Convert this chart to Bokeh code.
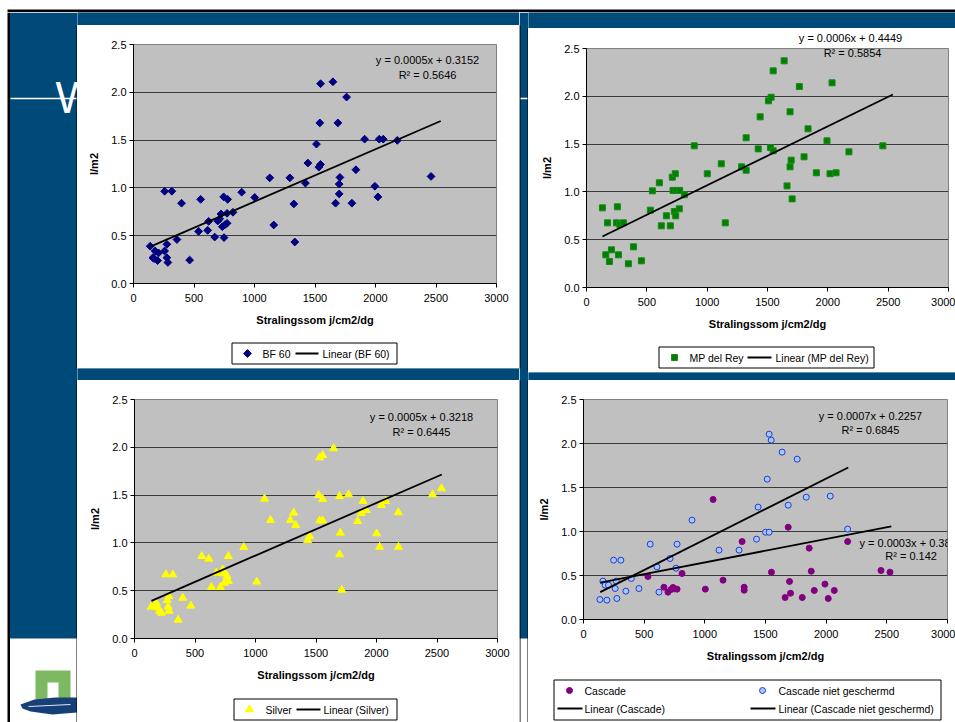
from math import pi
from bokeh.plotting import figure
from bokeh.layouts import row, column
from bokeh.models import Range1d, FixedTicker, NumeralTickFormatter, Label
from bokeh.core.properties import value
from bokeh.embed import file_html
from bokeh.resources import INLINE

FONT = "Liberation Sans"
SLIDE_BLUE = "#004a7a"
PLOT_GRAY = "#c0c0c0"

# ---------------- data ----------------
x_ticks = [0, 500, 1000, 1500, 2000, 2500, 3000]
y_ticks = [0.0, 0.5, 1.0, 1.5, 2.0, 2.5]
x_title = "Stralingssom j/cm2/dg"
y_title = "l/m2"

bf60_x = [138, 160, 179, 207, 171, 199, 257, 276, 276, 284, 257, 317, 359, 397, 464, 538, 555, 613, 621, 671,
          696, 712, 723, 745, 778, 748, 734, 756, 773, 773, 822, 894, 1002, 1126, 1159, 1292, 1325, 1333, 1421,
          1441, 1512, 1532, 1546, 1546, 1648, 1540, 1689, 1761, 1706, 1700, 1700, 1670, 1805, 1838, 1910, 2031,
          2064, 2180, 1995, 2020, 2459]
bf60_y = [0.39, 0.27, 0.34, 0.32, 0.26, 0.24, 0.34, 0.41, 0.27, 0.22, 0.965, 0.965, 0.46, 0.84, 0.245, 0.545,
          0.88, 0.556, 0.65, 0.486, 0.654, 0.675, 0.727, 0.906, 0.88, 0.48, 0.594, 0.615, 0.63, 0.734, 0.745,
          0.955, 0.90, 1.105, 0.612, 1.105, 0.832, 0.434, 1.05, 1.26, 1.458, 1.217, 1.245, 2.09, 2.11, 1.68,
          1.68, 1.95, 1.11, 1.04, 0.937, 0.84, 0.84, 1.19, 1.51, 1.51, 1.51, 1.497, 1.017, 0.906, 1.12]
bf60_trend_x = [144, 2539]
bf60_trend_y = [0.388, 1.70]
bf60_eq = ["y = 0.0005x + 0.3152", "R² = 0.5646"]

mp_x = [132, 174, 256, 248, 276, 306, 160, 207, 190, 265, 347, 389, 455, 529, 546, 604, 620, 695, 662, 711,
        736, 717, 744, 772, 811, 728, 739, 769, 893, 1001, 1117, 1150, 1285, 1323, 1323, 1423, 1439, 1508, 1530,
        1547, 1638, 1764, 2035, 1687, 1836, 1525, 1547, 1696, 1687, 1803, 1662, 1704, 1905, 2018, 2068, 1993,
        2175, 2456]
mp_y = [0.833, 0.676, 0.844, 0.676, 0.66, 0.676, 0.342, 0.394, 0.272, 0.342, 0.248, 0.425, 0.279, 0.809, 1.011,
        1.095, 0.645, 0.645, 0.75, 1.154, 1.19, 1.015, 1.015, 1.015, 0.97, 0.795, 0.75, 0.823, 1.482, 1.19,
        1.294, 0.676, 1.262, 1.227, 1.566, 1.45, 1.785, 1.953, 1.99, 2.266, 2.371, 2.102, 2.141, 1.838, 1.66,
        1.464, 1.43, 1.332, 1.262, 1.367, 1.063, 0.927, 1.2, 1.19, 1.2, 1.534, 1.419, 1.482]
mp_trend_x = [132, 2539]
mp_trend_y = [0.533, 2.019]
mp_eq = ["y = 0.0006x + 0.4449", "R² = 0.5854"]

silver_x = [138, 182, 193, 206, 223, 168, 270, 278, 286, 284, 259, 316, 361, 399, 465, 556, 614, 636, 677, 710,
            729, 738, 743, 765, 776, 776, 903, 1010, 1075, 1124, 1288, 1315, 1332, 1431, 1447, 1522, 1530, 1555,
            1646, 1555, 1530, 1555, 1695, 1770, 1701, 1695, 1712, 1844, 1874, 1888, 1915, 2001, 2026, 2040, 2076,
            2180, 2182, 2463, 2537]
silver_y = [0.331, 0.366, 0.324, 0.286, 0.268, 0.349, 0.40, 0.331, 0.289, 0.443, 0.669, 0.669, 0.195, 0.425,
            0.342, 0.861, 0.833, 0.537, 0.687, 0.537, 0.722, 0.68, 0.582, 0.652, 0.60, 0.861, 0.955, 0.593, 1.461,
            1.238, 1.238, 1.315, 1.186, 1.029, 1.071, 1.499, 1.893, 1.918, 1.988, 1.457, 1.234, 1.234, 1.489,
            1.506, 1.105, 0.879, 0.509, 1.227, 1.31, 1.437, 1.342, 1.098, 0.958, 1.395, 1.437, 1.318, 0.958,
            1.506, 1.569]
silver_trend_x = [140, 2540]
silver_trend_y = [0.394, 1.716]
silver_eq = ["y = 0.0005x + 0.3218", "R² = 0.6445"]

cascade_x = [531, 663, 696, 721, 738, 749, 771, 812, 1004, 1068, 1150, 1307, 1324, 1324, 1549, 1687, 1698, 1706,
             1662, 1803, 1860, 1877, 1902, 1990, 2017, 2067, 2177, 2452, 2526]
cascade_y = [0.489, 0.367, 0.311, 0.341, 0.364, 0.348, 0.345, 0.523, 0.345, 1.364, 0.447, 0.886, 0.367, 0.333,
             0.538, 1.049, 0.432, 0.299, 0.25, 0.25, 0.811, 0.549, 0.33, 0.402, 0.239, 0.33, 0.886, 0.557, 0.538]
cascade_trend_x = [138, 2537]
cascade_trend_y = [0.42, 1.057]
cascade_eq = ["y = 0.0003x + 0.3843", "R² = 0.142"]

niet_x = [135, 193, 275, 160, 179, 206, 261, 270, 248, 308, 349, 394, 457, 550, 605, 622, 713, 762, 771, 894,
          1117, 1282, 1426, 1439, 1514, 1530, 1547, 1500, 1530, 1637, 1761, 1687, 1836, 2034, 2177]
niet_y = [0.227, 0.22, 0.239, 0.436, 0.39, 0.39, 0.352, 0.436, 0.674, 0.674, 0.322, 0.466, 0.352, 0.856, 0.598,
          0.311, 0.693, 0.583, 0.856, 1.129, 0.788, 0.788, 0.913, 1.277, 1.595, 2.106, 2.038, 0.992, 0.992, 1.902,
          1.822, 1.299, 1.39, 1.402, 1.027]
niet_trend_x = [138, 2182]
niet_trend_y = [0.311, 1.727]
niet_eq = ["y = 0.0007x + 0.2257", "R² = 0.6845"]

# marker styles per series
STYLE_BF60 = dict(marker="square", angle=pi / 4, size=5.5, fill_color="#000080", line_color="#000080")
STYLE_MP = dict(marker="square", size=6, fill_color="#008000", line_color="#1a8a1a")
STYLE_SILVER = dict(marker="triangle", size=8, fill_color="#ffff00", line_color="#ffff00")
STYLE_CASCADE = dict(marker="circle", size=6, fill_color="#800080", line_color="#800080")
STYLE_NIET = dict(marker="circle", size=6, fill_color="#99ccff", line_color="#3333cc", line_width=1)
TREND = dict(line_color="black", line_width=1.8)


# ---------------- helpers ----------------
def chart(width, height, ml, mr, mt, mb):
    p = figure(width=width, height=height, x_range=Range1d(0, 3000), y_range=Range1d(0, 2.5),
               output_backend="svg", toolbar_location=None, frame_align=False,
               min_border_left=ml, min_border_right=mr, min_border_top=mt, min_border_bottom=mb)
    p.background_fill_color = PLOT_GRAY
    p.border_fill_color = "white"
    p.outline_line_color = "#808080"
    p.outline_line_width = 1
    p.xgrid.visible = False
    p.ygrid.grid_line_color = "#3a3a3a"
    p.ygrid.grid_line_width = 1
    p.xaxis.ticker = FixedTicker(ticks=x_ticks)
    p.yaxis.ticker = FixedTicker(ticks=y_ticks)
    p.yaxis.formatter = NumeralTickFormatter(format="0.0")
    for ax in p.axis:
        ax.axis_line_color = "black"
        ax.axis_line_width = 1
        ax.major_tick_line_color = "black"
        ax.major_tick_out = 4
        ax.major_tick_in = 0
        ax.minor_tick_line_color = None
        ax.major_label_text_font = FONT
        ax.major_label_text_font_size = "11px"
        ax.major_label_text_color = "black"
        ax.axis_label_text_font = FONT
        ax.axis_label_text_font_style = "bold"
        ax.axis_label_text_font_size = "11px"
        ax.axis_label_text_color = "black"
    p.xaxis.axis_label = x_title
    p.yaxis.axis_label = y_title
    p.xaxis.major_label_standoff = 6
    p.yaxis.major_label_standoff = 3
    p.xaxis.axis_label_standoff = 9
    p.yaxis.axis_label_standoff = 8
    return p


def eq_labels(p, lines, x, ys):
    for txt, yy in zip(lines, ys):
        p.add_layout(Label(x=x, y=yy, text=txt, text_font=FONT, text_font_size="11px",
                           text_color="black", text_align="center", text_baseline="middle"))


def page_fig(x0, x1, y0, y1, bg="white"):
    # decorative figure whose data coordinates are page pixels (y downward)
    f = figure(width=x1 - x0, height=y1 - y0, x_range=Range1d(x0, x1), y_range=Range1d(y1, y0),
               output_backend="svg", toolbar_location=None, min_border=0, frame_align=False,
               x_axis_location=None, y_axis_location=None)
    f.background_fill_color = bg
    f.border_fill_color = bg
    f.outline_line_color = None
    f.grid.visible = False
    f.quad(left=x0, right=x1, top=y0, bottom=y1, fill_color=bg, line_color=None)
    return f


def put_text(f, x, y, label, align="left", size="11px"):
    f.text([x], [y], text=[label], text_font=value(FONT), text_font_size=value(size),
           text_color="black", text_baseline="middle", text_align=align)


def legend_fig(x0, x1, y0, y1, box, entries):
    """Excel-style legend drawn in a strip below a chart. entries: (kind, style, sym_x, text_x, y, label)."""
    f = page_fig(x0, x1, y0, y1)
    bl, bt, br, bb = box
    f.quad(left=bl, right=br, top=bt, bottom=bb, fill_color="white", line_color="black", line_width=1)
    for kind, style, sx, tx, yy, label in entries:
        if kind == "marker":
            f.scatter([sx], [yy], **style)
        else:
            f.line([sx[0], sx[1]], [yy, yy], **TREND)
        put_text(f, tx, yy, label, size="10.5px")
    return f


# ---------------- chart 1 : BF 60 ----------------
c1 = chart(442, 310, 56, 23, 19, 52)
c1.scatter(bf60_x, bf60_y, **STYLE_BF60)
c1.line(bf60_trend_x, bf60_trend_y, **TREND)
eq_labels(c1, bf60_eq, 2430, [2.343, 2.186])
lg1 = legend_fig(77, 519, 335, 368, (231.5, 342.5, 396.5, 363.5),
                 [("marker", STYLE_BF60, 247, 262, 353, "BF 60"),
                  ("line", None, (295, 318), 322, 353, "Linear (BF 60)")])

# ---------------- chart 2 : MP del Rey ----------------
hd2 = page_fig(528, 955, 28, 44)          # strip above the plot that carries the equation
put_text(hd2, 850, 37.5, mp_eq[0], align="center")
c2 = chart(427, 296, 58, 7, 4, 53)
c2.scatter(mp_x, mp_y, **STYLE_MP)
c2.line(mp_trend_x, mp_trend_y, **TREND)
eq_labels(c2, mp_eq[1:], 2205, [2.455])
lg2 = legend_fig(528, 955, 340, 370, (658.5, 346.5, 873.5, 367.5),
                 [("marker", STYLE_MP, 674, 689, 357, "MP del Rey"),
                  ("line", None, (747, 771), 775, 357, "Linear (MP del Rey)")])

# ---------------- chart 3 : Silver ----------------
c3 = chart(442, 310, 57, 22, 19, 52)
c3.scatter(silver_x, silver_y, **STYLE_SILVER)
c3.line(silver_trend_x, silver_trend_y, **TREND)
eq_labels(c3, silver_eq, 2372, [2.312, 2.165])
lg3 = legend_fig(77, 519, 690, 722, (233.5, 698.5, 396.5, 719.5),
                 [("marker", STYLE_SILVER, 249, 265, 709, "Silver"),
                  ("line", None, (296, 320), 323, 709, "Linear (Silver)")])

# ---------------- chart 4 : Cascade ----------------
c4 = chart(427, 288, 55, 8, 19, 49)
c4.scatter(cascade_x, cascade_y, **STYLE_CASCADE)
c4.scatter(niet_x, niet_y, **STYLE_NIET)
c4.line(cascade_trend_x, cascade_trend_y, **TREND)
c4.line(niet_trend_x, niet_trend_y, **TREND)
eq_labels(c4, niet_eq, 2365, [2.318, 2.148])
eq_labels(c4, cascade_eq, 2700, [0.875, 0.716])
lg4 = legend_fig(528, 955, 668, 722, (553.5, 679.5, 940.5, 719.5),
                 [("marker", STYLE_CASCADE, 569, 584, 690, "Cascade"),
                  ("marker", STYLE_NIET, 762, 778, 690, "Cascade niet geschermd"),
                  ("line", None, (557, 582), 584, 708, "Linear (Cascade)"),
                  ("line", None, (750, 775), 778, 708, "Linear (Cascade niet geschermd)")])

# ---------------- slide background pieces ----------------
top = page_fig(0, 955, 0, 12)
top.quad(left=7, right=955, top=9, bottom=12, fill_color="black", line_color=None)

strip = page_fig(0, 77, 12, 722)
strip.quad(left=9.5, right=77, top=12, bottom=638, fill_color=SLIDE_BLUE, line_color=None)
strip.quad(left=7, right=9.5, top=12, bottom=722, fill_color="black", line_color=None)
strip.segment(x0=10, y0=98, x1=77, y1=98, line_color="white", line_width=1.5)
strip.add_layout(Label(x=55, y=97, text="W", text_color="white", text_font=FONT,
                       text_font_size="44px", text_baseline="alphabetic"))
strip.quad(left=35, right=70, top=670, bottom=702, fill_color="#7db962", line_color=None)
strip.quad(left=47, right=58, top=682, bottom=702, fill_color="white", line_color=None)
strip.patch([20, 34, 55, 77, 77, 52, 30, 22], [704, 699, 697, 697, 712, 714, 711, 708],
            fill_color="#173f78", line_color=None)
strip.segment(x0=28, y0=706, x1=70, y1=704, line_color="#dfe8f2", line_width=1)
strip.segment(x0=[76.5, 76.5], y0=[25, 380], x1=[76.5, 76.5], y1=[368, 722], line_color="black", line_width=1)

gap = page_fig(519, 528, 12, 722)
gap.quad(left=519, right=528, top=12, bottom=638, fill_color=SLIDE_BLUE, line_color=None)
gap.segment(x0=519, y0=98, x1=528, y1=98, line_color="white", line_width=1.5)
gap.segment(x0=[519.5, 519.5, 527.5, 527.5], y0=[25, 380, 28, 380], x1=[519.5, 519.5, 527.5, 527.5],
            y1=[368, 722, 370, 722], line_color="black", line_width=1)

col_left = column(page_fig(77, 519, 12, 25, SLIDE_BLUE), c1, lg1,
                  page_fig(77, 519, 368, 380, SLIDE_BLUE), c3, lg3)
col_right = column(page_fig(528, 955, 12, 28, SLIDE_BLUE), hd2, c2, lg2,
                   page_fig(528, 955, 370, 380, SLIDE_BLUE), c4, lg4)
layout = column(top, row(strip, col_left, gap, col_right))

open("out.html", "w").write(file_html(layout, INLINE))
